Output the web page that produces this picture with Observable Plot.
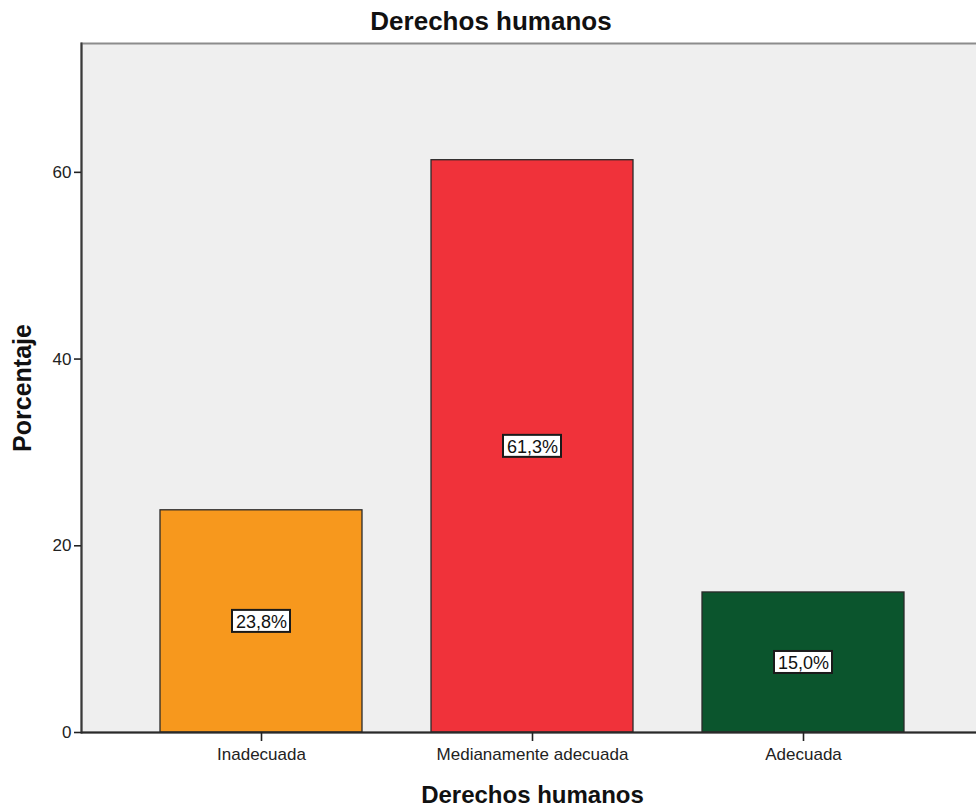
<!DOCTYPE html>
<html>
<head>
<meta charset="utf-8">
<script src="https://cdn.jsdelivr.net/npm/d3@7"></script>
<script src="https://cdn.jsdelivr.net/npm/@observablehq/plot@0.6"></script>
<style>
  html, body { margin: 0; padding: 0; background: #fff; overflow: hidden; }
  #wrap { position: relative; width: 976px; height: 808px; overflow: hidden; }
  #title { position: absolute; left: 3px; top: 6px; width: 976px; height: 44px; line-height: 44px;
           text-align: center; font: bold 26px "Liberation Sans", Arial, sans-serif; color: #111; }
</style>
</head>
<body>
<div id="wrap">
  <div id="chart"></div>
  <div id="title">Derechos humanos</div>
</div>
<script>
const categories = ["Inadecuada", "Medianamente adecuada", "Adecuada"];
const values = [23.8, 61.3, 15.0];
const colors = ["#F7981D", "#F0323A", "#0B552D"];
const yTicks = [0, 20, 40, 60];
const yMax = 73.8;
const xTitle = "Derechos humanos";
const yTitle = "Porcentaje";

const data = categories.map((c, i) => ({cat: c, value: values[i]}));
const fmt = v => v.toFixed(1).replace(".", ",") + "%";

const chart = Plot.plot({
  width: 976,
  height: 808,
  marginTop: 43,
  marginBottom: 76,
  marginLeft: 81,
  marginRight: -7,
  style: {fontFamily: "'Liberation Sans', Arial, sans-serif", background: "#fff", color: "#222"},
  x: {domain: categories, paddingInner: 0.255, paddingOuter: 0.29, label: null},
  y: {domain: [0, yMax], label: null},
  color: {domain: categories, range: colors},
  marks: [
    Plot.frame({fill: "#efefef", stroke: "#8c8c8c", strokeWidth: 2}),
    Plot.barY(data, {x: "cat", y: "value", fill: "cat", stroke: "#2a2a2a", strokeWidth: 1.3}),
    Plot.barY(data, {x: "cat", y1: d => d.value / 2, y2: d => d.value / 2,
      insetLeft: 72, insetRight: 72, insetTop: -11, insetBottom: -11,
      fill: "#fff", stroke: "#1a1a1a", strokeWidth: 2}),
    Plot.text(data, {x: "cat", y: d => d.value / 2, text: d => fmt(d.value),
      fontSize: 18, fill: "#111", dy: 1}),
    Plot.frame({anchor: "left", stroke: "#3a3a3a", strokeWidth: 2}),
    Plot.ruleY([0], {stroke: "#2a2a2a", strokeWidth: 2}),
    Plot.axisY(yTicks, {tickSize: 7, tickPadding: 3, fontSize: 17, strokeWidth: 1.6, color: "#222", label: null}),
    Plot.axisX({tickSize: 9, tickPadding: 6, fontSize: 17, strokeWidth: 1.6, color: "#222", label: null}),
    Plot.text([yTitle], {frameAnchor: "left", dx: -59, rotate: -90, fontSize: 25,
      textAnchor: "middle", lineAnchor: "middle",
      fontWeight: "bold", fill: "#111", text: d => d}),
    Plot.text([xTitle], {frameAnchor: "bottom", dy: 63, fontSize: 24,
      textAnchor: "middle", lineAnchor: "middle",
      fontWeight: "bold", fill: "#111", text: d => d})
  ]
});
document.getElementById("chart").appendChild(chart);
</script>
</body>
</html>
